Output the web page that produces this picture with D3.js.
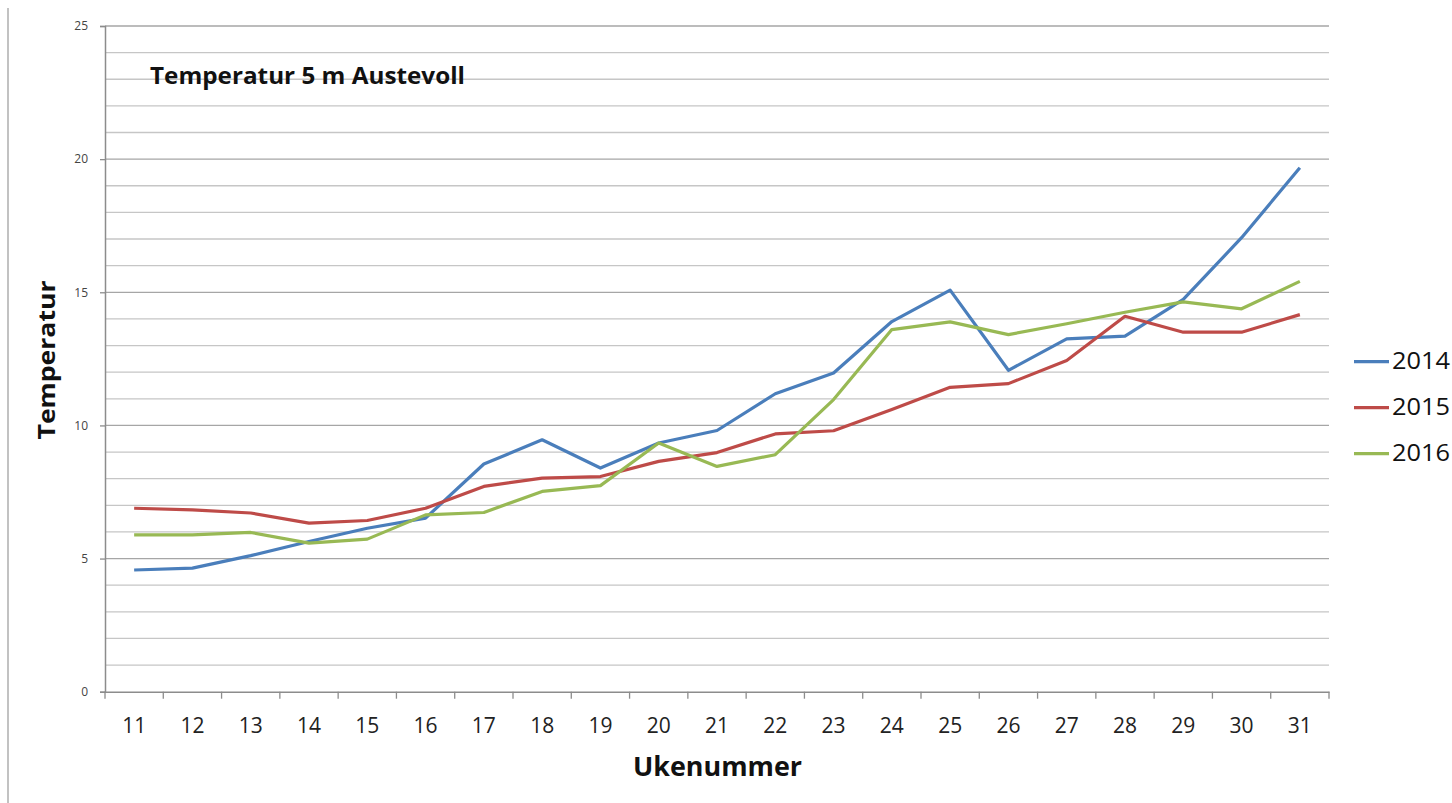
<!DOCTYPE html>
<html><head><meta charset="utf-8">
<script src="https://cdn.jsdelivr.net/npm/d3@7"></script>
<style>body{margin:0;background:#fff}svg{display:block}</style>
</head><body><svg id="c" width="1452" height="803"></svg>
<script>
const weeks = ["11","12","13","14","15","16","17","18","19","20","21","22","23","24","25","26","27","28","29","30","31"];
const s2014 = [4.57,4.64,5.11,5.64,6.14,6.52,8.55,9.46,8.40,9.34,9.81,11.19,11.97,13.9,15.08,12.07,13.25,13.35,14.73,17.05,19.68];
const s2015 = [6.89,6.83,6.71,6.33,6.43,6.89,7.71,8.02,8.08,8.65,8.98,9.68,9.80,10.6,11.43,11.57,12.44,14.10,13.50,13.50,14.16];
const s2016 = [5.89,5.89,5.98,5.58,5.73,6.64,6.73,7.52,7.74,9.34,8.46,8.90,10.97,13.60,13.89,13.41,13.82,14.25,14.64,14.38,15.41];
const seriesNames = ["2014","2015","2016"];
const seriesColors = ["#4a7ebb","#be4b48","#98b954"];
const yTicks = [0,5,10,15,20,25];

const svg = d3.select("#c");
const L = 105, R = 1329, T = 26, B = 691.7;
const x = d3.scaleBand().domain(weeks).range([L, R]).padding(0);
const y = d3.scaleLinear().domain([0, 25]).range([B, T]);
const font = "'Open Sans', Lato, sans-serif";

// outer frame line
svg.append("line").attr("x1",8).attr("x2",8).attr("y1",8).attr("y2",803).attr("stroke","#999").attr("stroke-width",1.2);

// gridlines
const grid = d3.range(1, 26);
svg.append("g").selectAll("line").data(grid).join("line")
  .attr("x1", L).attr("x2", R)
  .attr("y1", d => y(d)).attr("y2", d => y(d))
  .attr("stroke", d => d % 5 === 0 ? "#a6a6a6" : "#c6c6c6").attr("stroke-width", 1.3);

// y axis
const yAxis = d3.axisLeft(y).tickValues(yTicks).tickSize(5).tickPadding(12);
const gy = svg.append("g").attr("transform", `translate(${L},0)`).call(yAxis);
gy.select(".domain").attr("stroke","#8c8c8c").attr("stroke-width",1.5);
gy.selectAll(".tick line").attr("stroke","#8c8c8c").attr("stroke-width",1.3);
gy.selectAll(".tick text").attr("font-family", font).attr("font-size", 12).attr("fill","#444");

// x axis
const xAxis = d3.axisBottom(x).tickSize(0);
const gx = svg.append("g").attr("transform", `translate(0,${B})`).call(xAxis);
gx.select(".domain").attr("stroke","#8c8c8c").attr("stroke-width",1.5);
gx.selectAll(".tick text").attr("font-family", font).attr("font-size", 21).attr("fill","#222")
  .attr("y", 733 - B).attr("dy", 0);
// x tick marks at band boundaries
const bounds = weeks.map(w => x(w)).concat([R]);
svg.append("g").selectAll("line").data(bounds).join("line")
  .attr("x1", d => d).attr("x2", d => d).attr("y1", B).attr("y2", B + 7)
  .attr("stroke","#8c8c8c").attr("stroke-width",1.3);

// lines
const allSeries = [s2014, s2015, s2016];
const line = d3.line().x((d,i) => x(weeks[i]) + x.bandwidth()/2).y(d => y(d));
svg.append("g").selectAll("path").data(allSeries).join("path")
  .attr("d", line).attr("fill","none")
  .attr("stroke", (d,i) => seriesColors[i]).attr("stroke-width", 3.2)
  .attr("stroke-linejoin","round");

// title
svg.append("text").attr("x",150).attr("y",84.3).attr("font-family",font).attr("font-weight","bold")
  .attr("font-size",23).attr("fill","#111").attr("textLength",315).attr("lengthAdjust","spacingAndGlyphs")
  .text("Temperatur 5 m Austevoll");

// axis titles
svg.append("text").attr("transform","translate(55,360) rotate(-90)").attr("text-anchor","middle")
  .attr("font-family",font).attr("font-weight","bold").attr("font-size",24).attr("fill","#111")
  .attr("textLength",159).attr("lengthAdjust","spacingAndGlyphs").text("Temperatur");
svg.append("text").attr("x",717.5).attr("y",776).attr("text-anchor","middle")
  .attr("font-family",font).attr("font-weight","bold").attr("font-size",26).attr("fill","#111")
  .attr("textLength",169).attr("lengthAdjust","spacingAndGlyphs").text("Ukenummer");

// legend
const lg = svg.append("g").selectAll("g").data(seriesNames).join("g")
  .attr("transform",(d,i)=>`translate(1354,${361.7 + i*46})`);
lg.append("line").attr("x1",0).attr("x2",35).attr("y1",0).attr("y2",0)
  .attr("stroke",(d,i)=>seriesColors[i]).attr("stroke-width",3.2);
lg.append("text").attr("x",38).attr("y",7.5).attr("font-family",font).attr("font-size",23).attr("fill","#111")
  .attr("textLength",58).attr("lengthAdjust","spacingAndGlyphs").text(d=>d);
</script></body></html>
